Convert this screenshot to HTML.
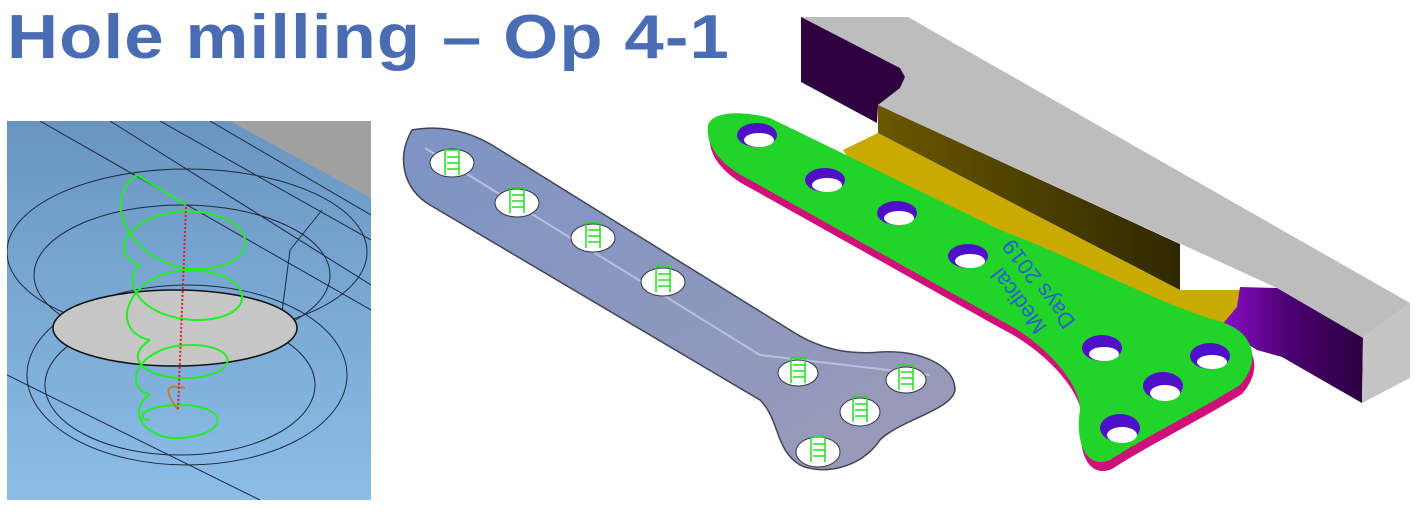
<!DOCTYPE html>
<html><head><style>
html,body{margin:0;padding:0;background:#fff;width:1416px;height:523px;overflow:hidden}
.t{position:absolute;left:7px;top:2px;font:bold 62px "Liberation Sans",sans-serif;color:#4a6cb3;letter-spacing:1px;white-space:nowrap;transform:scaleX(1.14);transform-origin:0 0}
</style></head><body>
<div class="t">Hole milling – Op 4-1</div>
<svg width="1416" height="523" style="position:absolute;left:0;top:0">
<defs>
<linearGradient id="lb" x1="0" y1="0" x2="0" y2="1"><stop offset="0" stop-color="#6a95c2"/><stop offset="1" stop-color="#8cbce8"/></linearGradient>
<linearGradient id="mp" x1="0" y1="0" x2="1" y2="1"><stop offset="0" stop-color="#7d94c4"/><stop offset="1" stop-color="#9b9ab8"/></linearGradient>
<linearGradient id="pf" x1="0" y1="0" x2="1" y2="0"><stop offset="0" stop-color="#8a10c8"/><stop offset="0.5" stop-color="#4a0070"/><stop offset="1" stop-color="#2c0040"/></linearGradient>
<linearGradient id="ol" x1="0" y1="0" x2="1" y2="0"><stop offset="0" stop-color="#6a5800"/><stop offset="1" stop-color="#302800"/></linearGradient>
<clipPath id="c1"><rect x="7" y="121" width="364" height="379"/></clipPath>
</defs>
<!-- left panel -->
<g clip-path="url(#c1)">
<rect x="7" y="121" width="364" height="379" fill="url(#lb)"/>
<polygon points="230,121 371,121 371,198" fill="#a0a0a0"/>
<g fill="none" stroke="#1c2a3a" stroke-width="1">
<line x1="40" y1="121" x2="371" y2="310"/><line x1="110" y1="121" x2="371" y2="285"/>
<line x1="160" y1="121" x2="371" y2="240"/><line x1="210" y1="121" x2="371" y2="215"/>
<line x1="7" y1="375" x2="260" y2="500"/>
<line x1="322" y1="210" x2="290" y2="250"/><line x1="290" y1="250" x2="281" y2="320"/>
<ellipse cx="187" cy="252" rx="180" ry="83"/>
<ellipse cx="182" cy="275" rx="148" ry="70"/>
<ellipse cx="187" cy="375" rx="160" ry="90"/>
<ellipse cx="180" cy="385" rx="135" ry="70"/>
</g>
<ellipse cx="175" cy="328" rx="122" ry="38" fill="#c6c6c6" stroke="#111" stroke-width="1.5"/>
<g fill="none" stroke="#22ee22" stroke-width="2">
<path d="M186,205 L137,175 C100,200 130,260 186,268 C260,275 265,220 200,212 C140,205 100,250 140,265"/>
<path d="M140,265 C120,280 140,320 200,320 C260,318 255,272 190,270 C130,270 105,330 150,340"/>
<path d="M150,340 C120,360 150,380 190,378 C240,375 240,345 190,345 C140,345 120,385 150,395"/>
<path d="M150,395 C125,410 145,440 180,438 C230,435 230,405 180,405 C140,405 135,420 150,420"/>
</g>
<path d="M178,410 C160,385 170,385 185,388" fill="none" stroke="#c08030" stroke-width="2"/>
<line x1="186" y1="207" x2="178" y2="410" stroke="#e02020" stroke-width="2" stroke-dasharray="2,2"/>
</g>
<!-- middle plate -->
<path d="M412,130 C440,125 470,130 500,150 L790,330 C820,350 850,355 880,352 C920,350 955,365 955,390 C952,410 900,420 880,440 C860,470 820,475 800,465 C775,450 780,420 760,400 L430,205 C405,190 395,160 412,130 Z" fill="url(#mp)" stroke="#445" stroke-width="1.5"/>
<path d="M425,148 L760,355 L930,375" fill="none" stroke="#b8c0dc" stroke-width="2"/>
<g fill="#fff" stroke="#334" stroke-width="1">
<ellipse cx="452" cy="163" rx="22" ry="14"/><ellipse cx="517" cy="203" rx="22" ry="14"/>
<ellipse cx="593" cy="238" rx="22" ry="14"/><ellipse cx="663" cy="282" rx="22" ry="14"/>
<ellipse cx="798" cy="373" rx="20" ry="13"/><ellipse cx="906" cy="380" rx="20" ry="13"/>
<ellipse cx="860" cy="412" rx="20" ry="14"/><ellipse cx="818" cy="452" rx="22" ry="15"/>
</g>
<g fill="none" stroke="#22dd22" stroke-width="1.5">
<path d="M445,175 v-25 h14 v25 M447,157 h12 M447,163 h12 M447,169 h12"/>
<path d="M510,213 v-25 h14 v25 M512,195 h12 M512,201 h12 M512,207 h12"/>
<path d="M586,248 v-25 h14 v25 M588,230 h12 M588,236 h12 M588,242 h12"/>
<path d="M656,292 v-25 h14 v25 M658,274 h12 M658,280 h12 M658,286 h12"/>
<path d="M791,383 v-25 h14 v25 M793,365 h12 M793,371 h12 M793,377 h12"/>
<path d="M899,390 v-25 h14 v25 M901,372 h12 M901,378 h12 M901,384 h12"/>
<path d="M853,422 v-25 h14 v25 M855,404 h12 M855,410 h12 M855,416 h12"/>
<path d="M811,462 v-25 h14 v25 M813,444 h12 M813,450 h12 M813,456 h12"/>
</g>
<!-- right block -->
<polygon points="801,17 908,17 1410,303 1363,338 1277,288 878,105 900,88 905,77 900,68" fill="#bdbdbd"/>
<polygon points="801,17 900,68 905,77 900,88 878,105 877,123 801,82" fill="#2e0042"/>
<polygon points="843,150 878,133 1180,290 1240,290 1250,340 1200,345 850,160" fill="#c9aa00"/>
<polygon points="878,105 1180,244 1180,290 878,133" fill="url(#ol)"/>
<polygon points="1240,287 1277,288 1363,338 1362,403 1282,357 1257,350 1220,327 1237,307" fill="url(#pf)"/>
<polygon points="1363,338 1410,303 1410,378 1362,403" fill="#c4c4c4"/>
<polygon points="1000,250 1120,300 1200,330 1150,335 1000,270" fill="#40b0d0"/>
<!-- green plate -->
<path transform="translate(2,9)" d="M708,125 C712,112 740,110 770,118 L1000,230 C1080,260 1150,300 1215,320 C1255,330 1262,360 1240,385 C1200,410 1140,440 1110,460 C1085,470 1075,440 1080,410 C1080,380 1040,340 1000,320 L750,180 C720,165 705,145 708,125 Z" fill="#d0107a"/>
<path d="M708,125 C712,112 740,110 770,118 L1000,230 C1080,260 1150,300 1215,320 C1255,330 1262,360 1240,385 C1200,410 1140,440 1110,460 C1085,470 1075,440 1080,410 C1080,380 1040,340 1000,320 L750,180 C720,165 705,145 708,125 Z" fill="#22d32a"/>
<g>
<ellipse cx="757" cy="135" rx="20" ry="12" fill="#5010c8"/><ellipse cx="759" cy="140" rx="15" ry="7" fill="#fff"/>
<ellipse cx="825" cy="180" rx="20" ry="12" fill="#5010c8"/><ellipse cx="827" cy="185" rx="15" ry="7" fill="#fff"/>
<ellipse cx="897" cy="213" rx="20" ry="12" fill="#5010c8"/><ellipse cx="899" cy="218" rx="15" ry="7" fill="#fff"/>
<ellipse cx="968" cy="256" rx="20" ry="12" fill="#5010c8"/><ellipse cx="970" cy="261" rx="15" ry="7" fill="#fff"/>
<ellipse cx="1102" cy="348" rx="20" ry="13" fill="#5010c8"/><ellipse cx="1104" cy="354" rx="15" ry="7" fill="#fff"/>
<ellipse cx="1210" cy="356" rx="20" ry="13" fill="#5010c8"/><ellipse cx="1212" cy="362" rx="15" ry="7" fill="#fff"/>
<ellipse cx="1163" cy="386" rx="20" ry="14" fill="#5010c8"/><ellipse cx="1165" cy="393" rx="15" ry="8" fill="#fff"/>
<ellipse cx="1120" cy="428" rx="20" ry="14" fill="#5010c8"/><ellipse cx="1122" cy="435" rx="15" ry="8" fill="#fff"/>
</g>
<text transform="translate(1020,300) rotate(-127)" font-family="Liberation Sans,sans-serif" font-size="22" fill="#2a5fd0" text-anchor="middle" dominant-baseline="middle">Medical</text>
<text transform="translate(1040,283) rotate(-127)" font-family="Liberation Sans,sans-serif" font-size="22" fill="#2a5fd0" text-anchor="middle" dominant-baseline="middle">Days 2019</text>
</svg>
</body></html>
